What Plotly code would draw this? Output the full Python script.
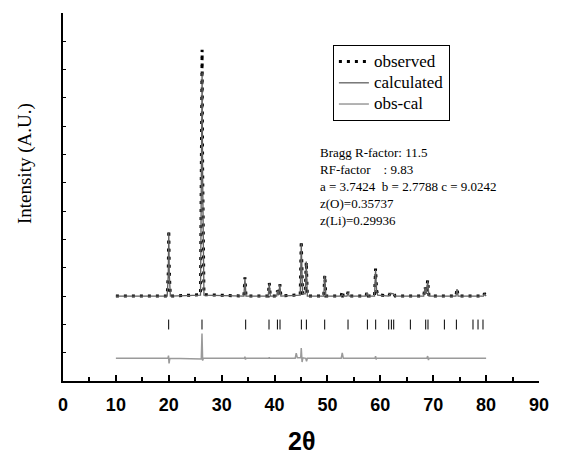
import plotly.graph_objects as go

# ---- data ----
two_theta = [10.00, 19.70, 19.90, 20.00, 20.10, 20.30, 26.00, 26.20, 26.30, 26.40, 26.65,
             34.20, 34.40, 34.60, 38.80, 39.00, 39.20, 40.40, 40.55, 40.75, 41.00, 41.20,
             44.85, 45.05, 45.30, 45.80, 46.00, 46.20, 49.30, 49.50, 49.70, 52.60, 52.80,
             53.00, 53.70, 53.90, 54.10, 57.30, 57.50, 57.70, 58.90, 59.10, 59.30, 59.50,
             61.60, 61.90, 62.50, 62.80, 68.20, 68.45, 68.70, 68.95, 69.20, 74.30, 74.50,
             74.70, 79.50, 79.70, 79.90, 80.00]
observed = [3.00, 3.00, 3.80, 5.33, 3.80, 3.00, 3.05, 7.50, 11.70, 7.50, 3.05,
            3.00, 3.66, 3.00, 3.00, 3.47, 3.00, 3.00, 3.20, 3.05, 3.42, 3.00,
            3.05, 4.95, 3.10, 3.10, 4.21, 3.00, 3.00, 3.74, 3.00, 3.00, 3.18,
            3.00, 3.00, 3.15, 3.00, 3.00, 3.15, 3.00, 3.00, 3.97, 3.20, 3.05,
            3.00, 3.12, 3.10, 3.00, 3.00, 3.32, 3.10, 3.56, 3.00, 3.00, 3.27,
            3.00, 3.00, 3.10, 3.00, 3.00]
calculated = [3.00, 3.00, 3.75, 5.25, 3.75, 3.00, 3.03, 7.20, 10.90, 7.20, 3.03,
              3.00, 3.62, 3.00, 3.00, 3.44, 3.00, 3.00, 3.18, 3.03, 3.40, 3.00,
              3.03, 4.85, 3.08, 3.08, 4.22, 3.00, 3.00, 3.72, 3.00, 3.00, 3.05,
              3.00, 3.00, 3.13, 3.00, 3.00, 3.13, 3.00, 3.00, 3.93, 3.18, 3.03,
              3.00, 3.10, 3.08, 3.00, 3.00, 3.30, 3.08, 3.52, 3.00, 3.00, 3.25,
              3.00, 3.00, 3.08, 3.00, 3.00]

diff_theta = [10.00, 19.85, 19.95, 20.05, 20.20, 26.15, 26.28, 26.40, 26.55, 34.30, 34.40,
              34.50, 34.60, 38.90, 39.00, 39.10, 43.90, 44.10, 44.30, 44.95, 45.05, 45.20,
              45.35, 45.90, 46.05, 46.20, 52.60, 52.80, 53.00, 59.00, 59.10, 59.20, 59.30,
              68.80, 68.95, 69.10, 69.20, 80.00]
obs_minus_cal = [0.80, 0.80, 0.90, 0.62, 0.80, 0.78, 1.68, 0.72, 0.80, 0.80, 0.86,
                 0.76, 0.80, 0.80, 0.84, 0.80, 0.80, 0.98, 0.82, 0.82, 1.16, 0.67,
                 0.82, 0.80, 0.70, 0.80, 0.80, 0.99, 0.80, 0.80, 0.88, 0.76, 0.80,
                 0.80, 0.88, 0.74, 0.80, 0.80]

bragg_positions = [19.98, 26.28, 34.54, 38.95, 40.54, 41.03, 45.07, 46.02, 49.48, 53.89,
                   57.55, 59.12, 61.58, 62.09, 62.53, 65.68, 68.58, 69.01, 72.11, 74.38,
                   77.52, 78.47, 79.41]
bragg_low, bragg_high = 1.82, 2.17

x_ticks = [0, 10, 20, 30, 40, 50, 60, 70, 80, 90]

series_names = ["observed", "calculated", "obs-cal"]

info_lines = ["Bragg R-factor: 11.5",
              "RF-factor\u00a0\u00a0\u00a0\u00a0: 9.83",
              "a = 3.7424\u00a0\u00a0b = 2.7788 c = 9.0242",
              "z(O)=0.35737",
              "z(Li)=0.29936"]


def legend_name(s):
    return '<span style="font-size:17px">' + s + '</span>'


# ---- figure ----
fig = go.Figure()

fig.add_trace(go.Scatter(x=two_theta, y=observed, mode="lines",
                         name=legend_name(series_names[0]),
                         line=dict(color="black", width=3, dash="3px,5px")))
fig.add_trace(go.Scatter(x=two_theta, y=calculated, mode="lines",
                         name=legend_name(series_names[1]),
                         line=dict(color="#606060", width=1.3)))
fig.add_trace(go.Scatter(x=diff_theta, y=obs_minus_cal, mode="lines",
                         name=legend_name(series_names[2]),
                         line=dict(color="#9a9a9a", width=1.5)))

bx, by = [], []
for p in bragg_positions:
    bx += [p, p, None]
    by += [bragg_low, bragg_high, None]
fig.add_trace(go.Scatter(x=bx, y=by, mode="lines", showlegend=False,
                         line=dict(color="black", width=1)))

fig.add_annotation(text="<br>".join(info_lines), xref="paper", yref="paper",
                   x=0.535, y=0.646, xanchor="left", yanchor="top", align="left",
                   showarrow=False,
                   font=dict(family="Liberation Serif", size=13, color="black"))

fig.add_annotation(text="Intensity (A.U.)", xref="paper", yref="paper",
                   x=-0.08, y=0.592, xanchor="center", yanchor="middle",
                   textangle=-90, showarrow=False,
                   font=dict(family="Liberation Serif", size=19, color="black"))

fig.add_annotation(text="<b>2θ</b>", xref="paper", yref="paper",
                   x=0.5, y=-0.163, xanchor="center", yanchor="middle",
                   showarrow=False,
                   font=dict(family="Liberation Sans", size=25, color="black"))

# the page body adds an 8px offset; the figure is sized to compensate
fig.update_layout(
    width=554, height=446, autosize=False,
    margin=dict(l=55, r=23, t=5, b=73),
    paper_bgcolor="white", plot_bgcolor="white",
    showlegend=True,
    legend=dict(x=0.567, y=0.913, xanchor="left", yanchor="top",
                bordercolor="black", borderwidth=1, bgcolor="white",
                font=dict(family="Liberation Serif", size=14, color="black"),
                itemwidth=30, tracegroupgap=0),
    xaxis=dict(range=[0, 90], tickmode="array", tickvals=x_ticks,
               ticktext=[str(v) for v in x_ticks], automargin=False,
               ticks="inside", ticklen=6, tickwidth=1.5, tickcolor="black",
               minor=dict(dtick=5, tick0=0, ticks="inside", ticklen=4,
                          tickwidth=1.5, tickcolor="black"),
               showline=True, linecolor="black", linewidth=2,
               showgrid=False, zeroline=False, ticklabelstandoff=6,
               tickfont=dict(family="Liberation Sans", size=18, color="black",
                             weight="bold")),
    yaxis=dict(range=[0, 13], dtick=1, tick0=0, ticks="inside", ticklen=3,
               tickwidth=1, tickcolor="black", showticklabels=False, automargin=False,
               showline=True, linecolor="black", linewidth=2,
               showgrid=False, zeroline=False),
)

fig.write_html("out.html")
